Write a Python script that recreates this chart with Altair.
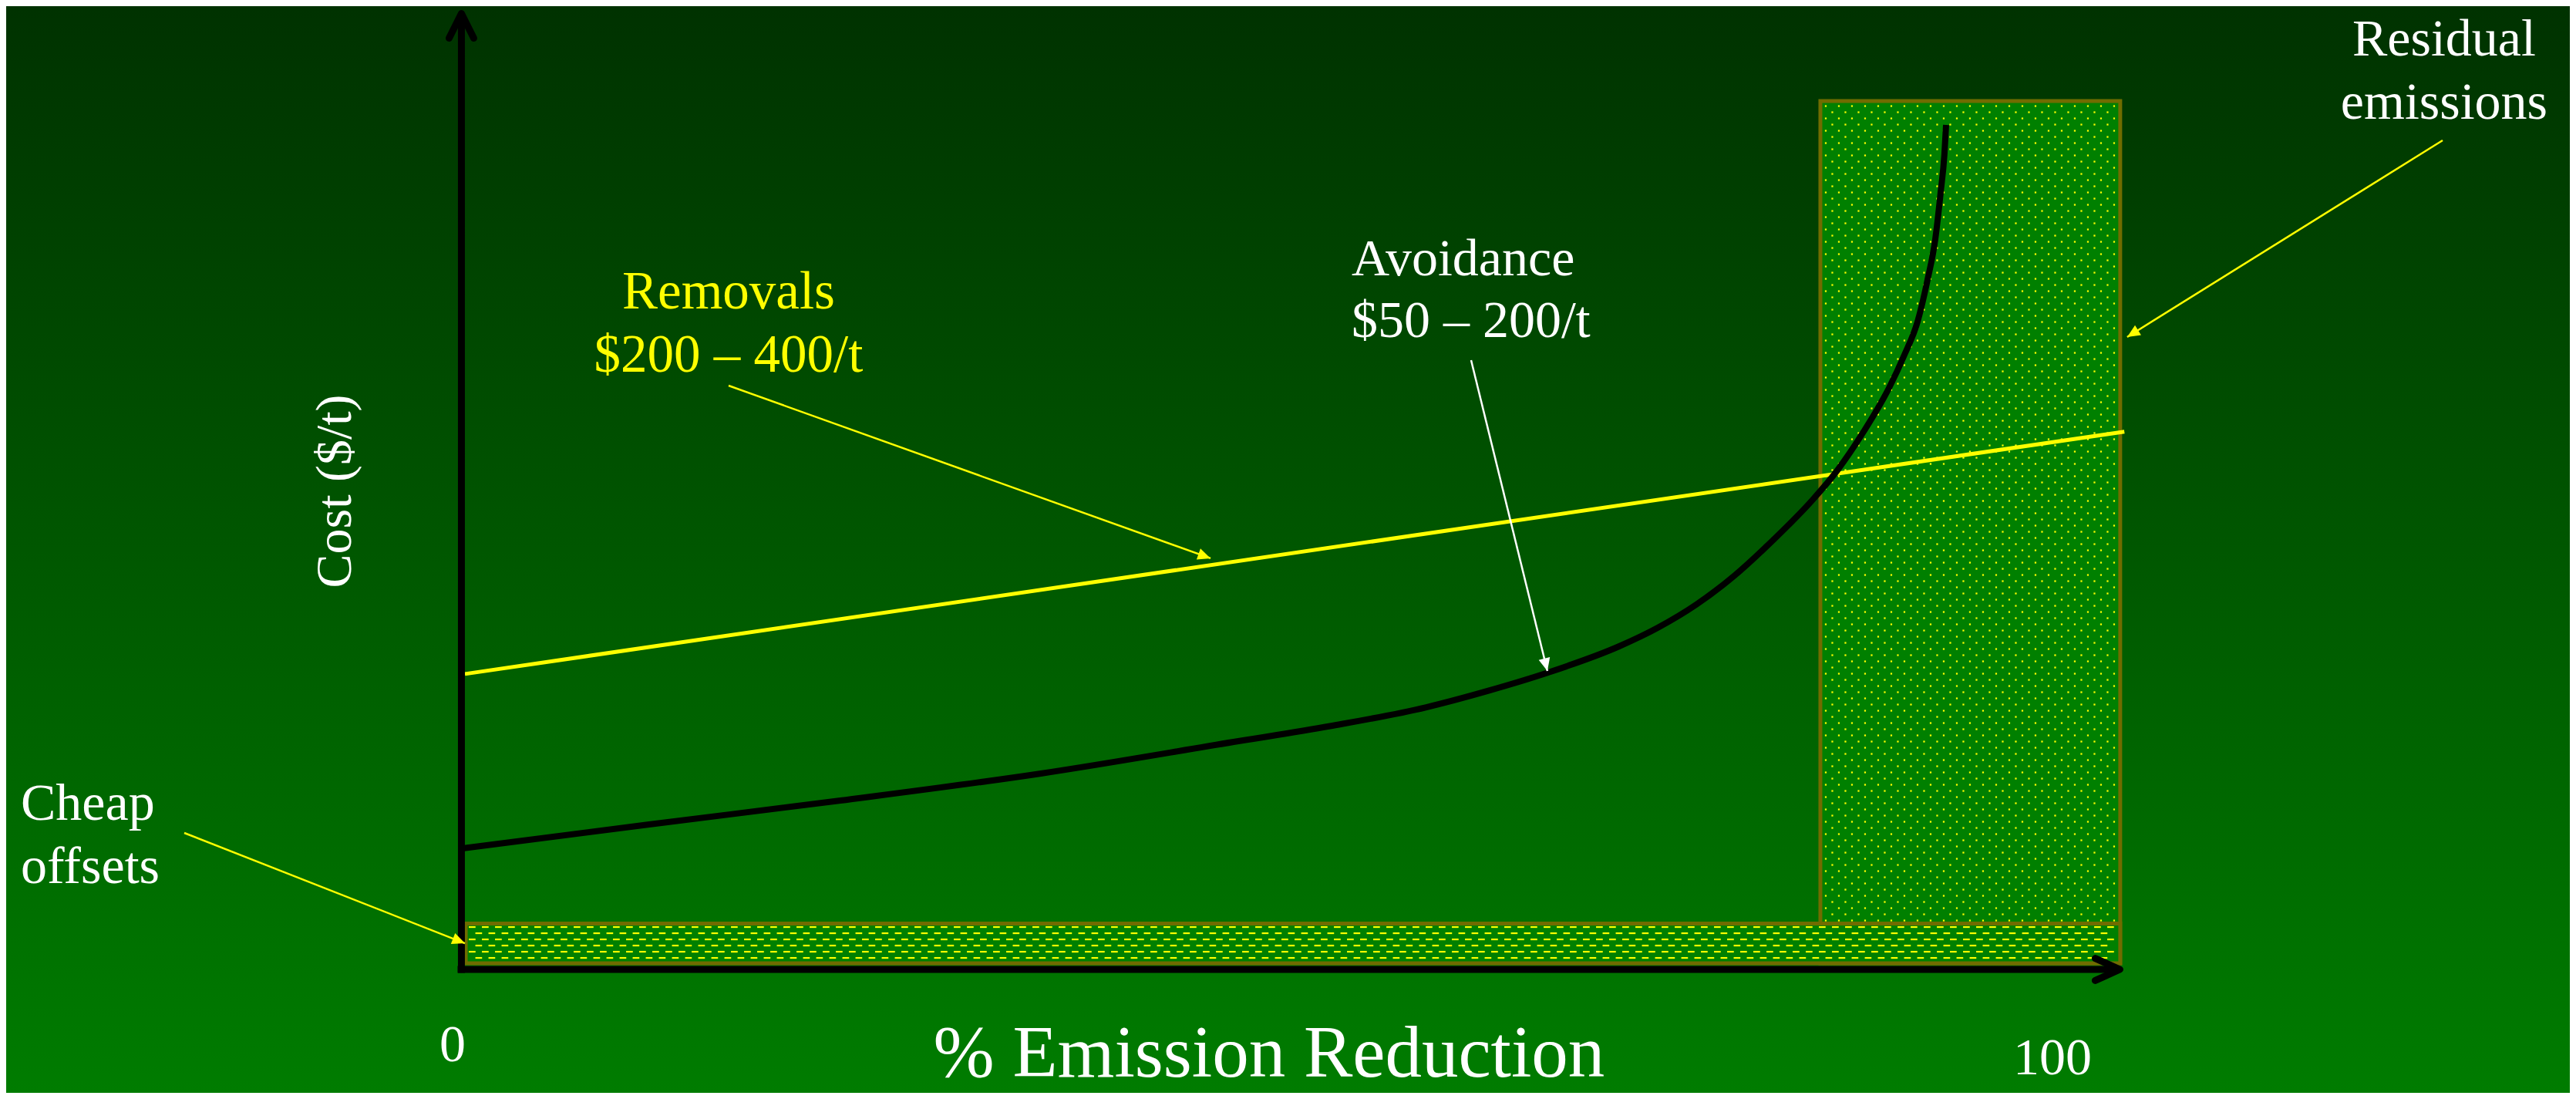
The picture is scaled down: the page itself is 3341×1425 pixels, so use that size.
import math
import numpy as np
import pandas as pd
import altair as alt

# ---------------- canvas / coordinate system ----------------
W, H = 3325, 1409
XDOM = [-27.52, 127.06]   # % emission reduction
YDOM = [-12.86, 100.40]   # cost index (arbitrary units)
SX = W / (XDOM[1] - XDOM[0])
SY = H / (YDOM[1] - YDOM[0])

# ---------------- data ----------------
# Avoidance cost curve
avoid_x = [0.0, 11.16, 22.78, 34.87, 46.49, 52.30, 58.11, 61.85, 65.46, 69.74,
           72.06, 74.38, 76.71, 79.03, 81.36, 82.89, 84.47, 86.01, 86.94, 87.73,
           88.33, 88.80, 89.12, 89.35, 89.45]
avoid_y = [12.62, 15.10, 17.60, 20.42, 23.71, 25.36, 27.33, 29.05, 30.95, 33.68,
           35.61, 38.02, 41.08, 44.77, 48.87, 52.01, 56.03, 60.61, 64.07, 67.52,
           71.86, 76.13, 80.95, 84.97, 88.02]

# Removals cost line
removal_x = [0.14, 100.2]
removal_y = [30.8, 56.05]

# Residual emissions block and cheap offsets band
resid_x, resid_x2, resid_y, resid_y2 = 81.87, 99.95, 0.64, 90.51
band_x, band_x2, band_y, band_y2 = 0.19, 99.95, 0.64, 4.78

# Annotation arrows: start -> tip
arrow_name = ["Removals", "Avoidance", "Residual", "Cheap"]
arrow_x0 = [16.04, 60.81, 119.39, -16.78]
arrow_y0 = [60.85, 63.50, 86.41, 14.23]
arrow_x1 = [45.10, 65.41, 100.37, 0.14]
arrow_y1 = [42.85, 31.11, 65.92, 2.73]
arrow_col = ["#ffff00", "#ffffff", "#ffff00", "#ffff00"]

# Text labels
yellow_c_text = ["Removals", "$200 \u2013 400/t"]
yellow_c_x = [16.04, 16.04]
yellow_c_y = [68.89, 62.30]

white_c_text = ["Residual", "emissions", "0", "100"]
white_c_x = [119.48, 119.48, -0.60, 95.86]
white_c_y = [95.26, 88.67, -9.57, -10.93]

white_l_text = ["Avoidance", "$50 \u2013 200/t", "Cheap", "offsets"]
white_l_x = [53.60, 53.60, -26.64, -26.64]
white_l_y = [72.35, 65.92, 15.59, 9.00]

x_title = "% Emission Reduction"
x_title_pos = (48.63, -11.18)
y_title = "Cost ($/t)"
y_title_pos = (-6.74, 49.84)

FONT = "Liberation Serif"

# ---------------- helpers ----------------
def px2x(px):
    return XDOM[0] + (px - 8) / SX

def py2y(py):
    return YDOM[1] - (py - 8) / SY

xs = alt.Scale(domain=XDOM, nice=False, zero=False)
ys = alt.Scale(domain=YDOM, nice=False, zero=False)

def X(f="x"):
    return alt.X(f"{f}:Q", scale=xs, axis=None)

def Y(f="y"):
    return alt.Y(f"{f}:Q", scale=ys, axis=None)

# background
bg = alt.Chart(pd.DataFrame({"x": [XDOM[0]], "x2": [XDOM[1]], "y": [YDOM[0]], "y2": [YDOM[1]]})).mark_rect(
    fill=alt.Gradient(gradient="linear",
                      stops=[alt.GradientStop(offset=0, color="#003200"),
                             alt.GradientStop(offset=1, color="#007c00")],
                      x1=0, x2=0, y1=0, y2=1),
    strokeWidth=0
).encode(x=X(), x2="x2:Q", y=Y("y2"), y2="y:Q")

resid = alt.Chart(pd.DataFrame({"x": [resid_x], "x2": [resid_x2], "y": [resid_y], "y2": [resid_y2]})).mark_rect(
    fill="#008000", stroke="#706c00", strokeWidth=5
).encode(x=X(), x2="x2:Q", y=Y(), y2="y2:Q")

band = alt.Chart(pd.DataFrame({"x": [band_x], "x2": [band_x2], "y": [band_y], "y2": [band_y2]})).mark_rect(
    fill="#008000", stroke="#706c00", strokeWidth=5
).encode(x=X(), x2="x2:Q", y=Y(), y2="y2:Q")

# texture: dotted fill for residual block
dots = []
top_px = 8 + (YDOM[1] - resid_y2) * SY + 6.5
bot_px = 8 + (YDOM[1] - band_y2) * SY - 3
left_px = 8 + (resid_x - XDOM[0]) * SX + 7
right_px = 8 + (resid_x2 - XDOM[0]) * SX - 4
for i, py in enumerate(np.arange(top_px, bot_px, 8.0)):
    start = left_px if i % 2 == 0 else left_px + 8.5
    for px in np.arange(start, right_px, 17.0):
        dots.append({"x": px2x(px), "y": py2y(py)})
dots_layer = alt.Chart(pd.DataFrame(dots)).mark_square(
    size=5, color="#ffff00", opacity=1
).encode(x=X(), y=Y())

# texture: dashed fill for cheap offsets band
dashes = []
btop = 8 + (YDOM[1] - band_y2) * SY + 4.5
bleft = 8 + (band_x - XDOM[0]) * SX + 4
bright = 8 + (band_x2 - XDOM[0]) * SX - 4
for k in range(6):
    py = btop + 8 * k
    start = bleft if k % 2 == 0 else bleft + 8.5
    for px in np.arange(start, bright - 8.7, 17.0):
        dashes.append({"x": px2x(px), "x2": px2x(px + 8.7), "y": py2y(py)})
dash_layer = alt.Chart(pd.DataFrame(dashes)).mark_rule(
    color="#ffff00", strokeWidth=2.2
).encode(x=X(), x2="x2:Q", y=Y())

removal = alt.Chart(pd.DataFrame({"x": removal_x, "y": removal_y})).mark_line(
    color="#ffff00", strokeWidth=5
).encode(x=X(), y=Y())

avoid = alt.Chart(pd.DataFrame({"x": avoid_x, "y": avoid_y})).mark_line(
    color="#000000", strokeWidth=8, interpolate="monotone"
).encode(x=X(), y=Y())

# axes
axis_df = pd.DataFrame({"x": [-0.07, -0.30], "x2": [-0.07, 99.9],
                        "y": [-0.36, 0.0], "y2": [99.45, 0.0]})
axes = alt.Chart(axis_df).mark_rule(color="#000000", strokeWidth=9, strokeCap="butt").encode(
    x=X(), x2="x2:Q", y=Y(), y2="y2:Q")

up_tip = alt.Chart(pd.DataFrame({"x": [-0.07], "y": [99.64]})).mark_point(
    shape="M-0.5,1L0,0L0.5,1", size=4096, filled=False, stroke="#000000",
    strokeWidth=9, strokeCap="round", strokeJoin="round", opacity=1
).encode(x=X(), y=Y())
right_tip = alt.Chart(pd.DataFrame({"x": [99.93], "y": [0.0]})).mark_point(
    shape="M-1,-0.45L0,0L-1,0.45", size=4096, filled=False, stroke="#000000",
    strokeWidth=9, strokeCap="round", strokeJoin="round", opacity=1
).encode(x=X(), y=Y())

# annotation arrows
ang = []
for a, b, c, d in zip(arrow_x0, arrow_y0, arrow_x1, arrow_y1):
    dxp = (c - a) * SX
    dyp = -(d - b) * SY
    ang.append(math.degrees(math.atan2(dxp, -dyp)) % 360)
arr_df = pd.DataFrame({"name": arrow_name, "x": arrow_x0, "y": arrow_y0,
                       "x2": arrow_x1, "y2": arrow_y1, "col": arrow_col, "ang": ang})
arr_lines = alt.Chart(arr_df).mark_rule(strokeWidth=2.5).encode(
    x=X(), x2="x2:Q", y=Y(), y2="y2:Q", color=alt.Color("col:N", scale=None))
arr_heads = alt.Chart(arr_df).mark_point(
    shape="M0,0L-0.45,1L0.45,1Z", size=1100, filled=True, opacity=1, strokeWidth=0
).encode(x=X("x2"), y=Y("y2"), color=alt.Color("col:N", scale=None),
         angle=alt.Angle("ang:Q", scale=None))

def text_layer(texts, xv, yv, color, align, size=68, angle=0):
    df = pd.DataFrame({"x": xv, "y": yv, "t": texts})
    kw = dict(font=FONT, fontSize=size, align=align, baseline="alphabetic", color=color)
    if angle:
        kw["angle"] = angle
    return alt.Chart(df).mark_text(**kw).encode(x=X(), y=Y(), text="t:N")

t1 = text_layer(yellow_c_text, yellow_c_x, yellow_c_y, "#ffff00", "center", size=69)
t2 = text_layer(white_c_text, white_c_x, white_c_y, "#ffffff", "center")
t3 = text_layer(white_l_text, white_l_x, white_l_y, "#ffffff", "left")
t4 = text_layer([x_title], [x_title_pos[0]], [x_title_pos[1]], "#ffffff", "center", size=95)
t5 = text_layer([y_title], [y_title_pos[0]], [y_title_pos[1]], "#ffffff", "center", size=66, angle=270)

chart = alt.layer(
    bg, resid, band, dots_layer, dash_layer, removal, avoid, axes, up_tip, right_tip,
    arr_lines, arr_heads, t1, t2, t3, t4, t5
).properties(
    width=W, height=H, padding=0, autosize=alt.AutoSizeParams(type="none"),
    background="#003200"
).configure_view(stroke=None)

chart.save("out.html", embed_options={"renderer": "svg", "actions": False})
